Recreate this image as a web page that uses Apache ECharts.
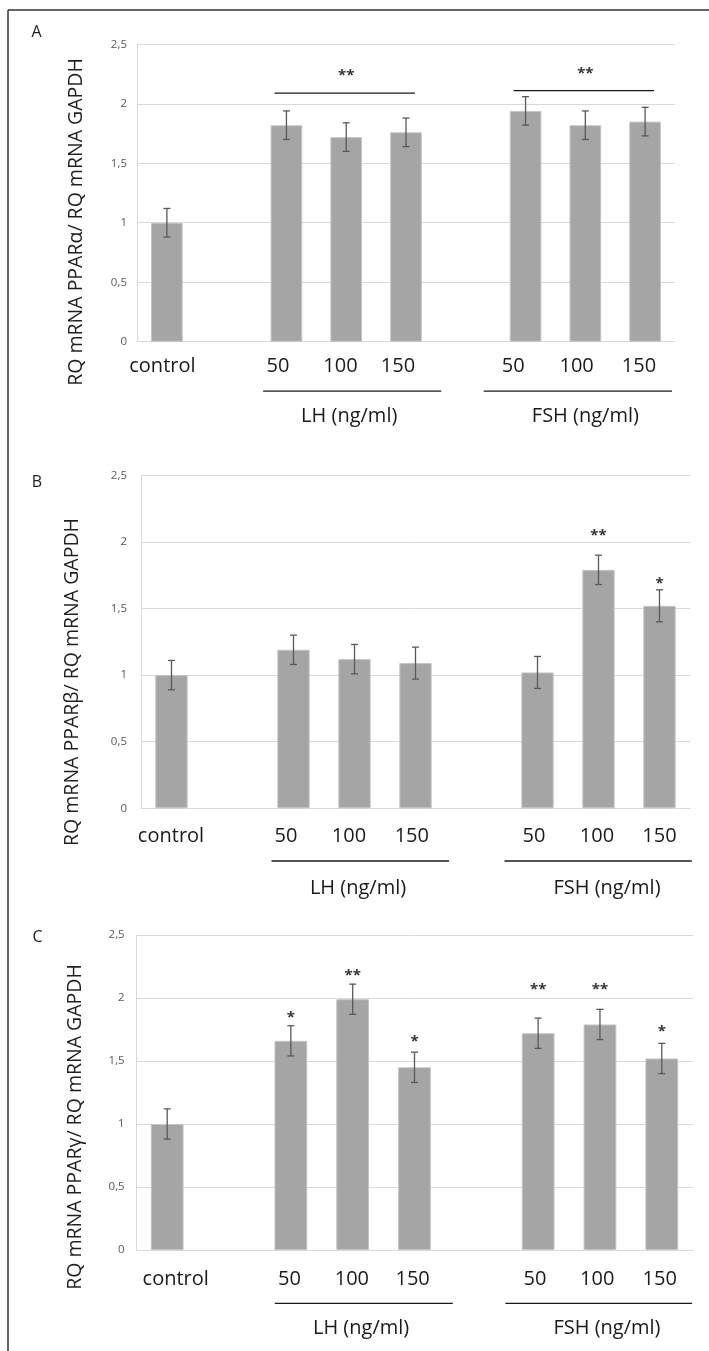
<!DOCTYPE html>
<html><head><meta charset="utf-8">
<script src="https://cdn.jsdelivr.net/npm/echarts@6/dist/echarts.min.js"></script>
<style>html,body{margin:0;padding:0;background:#fff}#c{width:709px;height:1351px}</style>
</head><body><div id="c"></div>
<script>
// ---------- data ----------
const categories = ['control','gap1','LH50','LH100','LH150','gap2','FSH50','FSH100','FSH150'];
const tickLabels = ['control','','50','100','150','','50','100','150'];
const groupNames = ['LH (ng/ml)','FSH (ng/ml)'];
const groupFrom = [2, 6];
const groupTo = [4, 8];
const panelLetters = ['A','B','C'];
const yTitles = ['RQ mRNA PPARα/ RQ mRNA GAPDH','RQ mRNA PPARβ/ RQ mRNA GAPDH','RQ mRNA PPARγ/ RQ mRNA GAPDH'];
const yMin = 0, yMax = 2.5, yStep = 0.5;

const valuesA = [1.00, null, 1.82, 1.72, 1.76, null, 1.94, 1.82, 1.85];
const errA    = [0.12, null, 0.12, 0.12, 0.12, null, 0.12, 0.12, 0.12];
const valuesB = [1.00, null, 1.19, 1.12, 1.09, null, 1.02, 1.79, 1.52];
const errB    = [0.11, null, 0.11, 0.11, 0.12, null, 0.12, 0.11, 0.12];
const valuesC = [1.00, null, 1.66, 1.99, 1.45, null, 1.72, 1.79, 1.52];
const errC    = [0.12, null, 0.12, 0.12, 0.12, null, 0.12, 0.12, 0.12];

// significance: lines [fromIndex, toIndex, y], stars [index, y, text]
const sigLinesA = [[2, 4, 2.09], [6, 8, 2.11]];
const sigStarsA = [[3, 2.26, '**'], [7, 2.28, '**']];
const sigLinesB = [];
const sigStarsB = [[7, 2.07, '**'], [8, 1.71, '*']];
const sigLinesC = [];
const sigStarsC = [[2, 1.87, '*'], [3, 2.20, '**'], [4, 1.68, '*'], [6, 2.09, '**'], [7, 2.09, '**'], [8, 1.76, '*']];

// ---------- layout / style ----------
const FONT = 'Open Sans';
const layout = [
  {top:44.3, height:297.4, left:137, right:34, letter:[36.5,32.5], title:[76,222], yMargin:10,
   labelMargin:15, labelDx:[-4.5,0,-8.5,-5.7,-8,0,-12.3,-8.7,-6.2],
   gLine:49.5, gText:75, gExt:[[0.39,0.59],[0.70,0.45]], gDx:[3,0]},
  {top:475.3, height:333, left:141, right:19, letter:[37,482], title:[72,682], yMargin:14,
   labelMargin:18.4, labelDx:[-0.5,0,-7.5,-5.5,-3.7,0,-3.5,-1.5,0],
   gLine:52.7, gText:80, gExt:[[0.36,0.55],[0.54,0.53]], gDx:[3.5,8.5]},
  {top:935, height:315, left:136.3, right:16.3, letter:[37.5,937], title:[75,1127], yMargin:11.6,
   labelMargin:19.3, labelDx:[8.5,0,-1.3,-0.8,-1.9,0,-3.2,-2.8,-2.1],
   gLine:53.3, gText:78.5, gExt:[[0.26,0.62],[0.53,0.49]], gDx:[8.4,7]}
];
const panelValues = [valuesA, valuesB, valuesC];
const panelErr = [errA, errB, errC];
const panelLines = [sigLinesA, sigLinesB, sigLinesC];
const panelStars = [sigStarsA, sigStarsB, sigStarsC];

const grids = [], xAxes = [], yAxes = [], series = [], graphics = [];

layout.forEach((L, p) => {
  grids.push({left:L.left, right:L.right, top:L.top, height:L.height, outerBoundsMode:'none', containLabel:false});
  xAxes.push({
    type:'category', gridIndex:p,
    data: categories.map((c, i) => {
      const dx = L.labelDx[i];
      const pad = dx >= 0 ? [0,0,0,2*dx] : [0,-2*dx,0,0];
      return {value:c, textStyle:{padding:pad}};
    }),
    axisLine:{show:true, lineStyle:{color:'#d9d9d9', width:1}},
    axisTick:{show:false},
    axisLabel:{interval:0, formatter:(v, i) => tickLabels[i], color:'#1a1a1a', fontSize:20,
               fontFamily:FONT, margin:L.labelMargin, lineHeight:20},
    splitLine:{show:false}
  });
  yAxes.push({
    type:'value', gridIndex:p, min:yMin, max:yMax, interval:yStep,
    axisLine:{show:true, lineStyle:{color:'#d9d9d9', width:1}},
    axisTick:{show:false},
    axisLabel:{formatter:v => String(v).replace('.', ','), color:'#595959', fontSize:11.5,
               fontFamily:FONT, margin:L.yMargin},
    splitLine:{show:true, lineStyle:{color:'#d9d9d9', width:1}}
  });
  const vals = panelValues[p], errs = panelErr[p];
  series.push({
    type:'bar', xAxisIndex:p, yAxisIndex:p, data:vals, barWidth:'53%',
    itemStyle:{color:'#a5a5a5', borderColor:'#c4c4c4', borderWidth:1},
    silent:true, animation:false
  });
  const errData = [];
  vals.forEach((v, i) => { if (v != null) errData.push([i, v, errs[i]]); });
  series.push({
    type:'custom', xAxisIndex:p, yAxisIndex:p, data:errData, z:3, animation:false, silent:true,
    encode:{x:0, y:1},
    renderItem:(params, api) => {
      const x = api.value(0), v = api.value(1), e = api.value(2);
      const hi = api.coord([x, v + e]), lo = api.coord([x, v - e]);
      const w = 3.5, st = {stroke:'#595959', lineWidth:1.3};
      return {type:'group', children:[
        {type:'line', shape:{x1:hi[0], y1:hi[1], x2:lo[0], y2:lo[1]}, style:st},
        {type:'line', shape:{x1:hi[0]-w, y1:hi[1], x2:hi[0]+w, y2:hi[1]}, style:st},
        {type:'line', shape:{x1:lo[0]-w, y1:lo[1], x2:lo[0]+w, y2:lo[1]}, style:st}
      ]};
    }
  });
  // group brackets below axis
  const gData = groupFrom.map((f, g) => [f, groupTo[g], 0]);
  series.push({
    type:'custom', xAxisIndex:p, yAxisIndex:p, data:gData, clip:false, z:3, animation:false, silent:true,
    encode:{x:[0,1], y:2},
    renderItem:(params, api) => {
      const g = params.dataIndex;
      const p0 = api.coord([api.value(0), 0]), p1 = api.coord([api.value(1), 0]);
      const band = api.size([1, 0])[0];
      const ext = L.gExt[g];
      const y = p0[1] + L.gLine;
      return {type:'group', children:[
        {type:'line', shape:{x1:p0[0]-band*ext[0], y1:y, x2:p1[0]+band*ext[1], y2:y},
         style:{stroke:'#1a1a1a', lineWidth:1.3}},
        {type:'text', style:{text:groupNames[g], x:(p0[0]+p1[0])/2 + L.gDx[g], y:p0[1] + L.gText,
          align:'center', verticalAlign:'middle', fill:'#1a1a1a', fontSize:20, fontFamily:FONT}}
      ]};
    }
  });
  // significance lines
  const lines = panelLines[p];
  if (lines.length) {
    series.push({
      type:'custom', xAxisIndex:p, yAxisIndex:p, data:lines, clip:false, z:3, animation:false, silent:true,
      encode:{x:[0,1], y:2},
      renderItem:(params, api) => {
        const band = api.size([1, 0])[0];
        const a = api.coord([api.value(0), api.value(2)]), b = api.coord([api.value(1), api.value(2)]);
        return {type:'line', shape:{x1:a[0]-band*0.2, y1:a[1], x2:b[0]+band*0.15, y2:b[1]},
                style:{stroke:'#1a1a1a', lineWidth:1.3}};
      }
    });
  }
  const stars = panelStars[p];
  series.push({
    type:'custom', xAxisIndex:p, yAxisIndex:p, data:stars.map(s => [s[0], s[1]]), clip:false, z:4,
    animation:false, silent:true, encode:{x:0, y:1},
    renderItem:(params, api) => {
      const c = api.coord([api.value(0), api.value(1)]);
      return {type:'text', style:{text:stars[params.dataIndex][2], x:c[0], y:c[1] + 3,
        align:'center', verticalAlign:'middle', fill:'#333', fontSize:15, fontWeight:'bold', fontFamily:FONT}};
    }
  });
  graphics.push({type:'text', x:L.letter[0], y:L.letter[1],
    style:{text:panelLetters[p], align:'center', verticalAlign:'middle', fill:'#222', fontSize:16, fontFamily:FONT}});
  graphics.push({type:'text', x:L.title[0], y:L.title[1], rotation:Math.PI/2,
    style:{text:yTitles[p], align:'center', verticalAlign:'middle', fill:'#1f1f1f', fontSize:19.5, fontFamily:FONT}});
});

// frame lines
graphics.push({type:'line', shape:{x1:8, y1:10, x2:709, y2:10}, style:{stroke:'#333', lineWidth:1.5}});
graphics.push({type:'line', shape:{x1:8, y1:10, x2:8, y2:1351}, style:{stroke:'#333', lineWidth:1.5}});

const chart = echarts.init(document.getElementById('c'), null, {renderer:'canvas'});
chart.setOption({
  backgroundColor:'#fff', animation:false,
  textStyle:{fontFamily:FONT},
  grid:grids, xAxis:xAxes, yAxis:yAxes, series:series, graphic:graphics
});
</script></body></html>
